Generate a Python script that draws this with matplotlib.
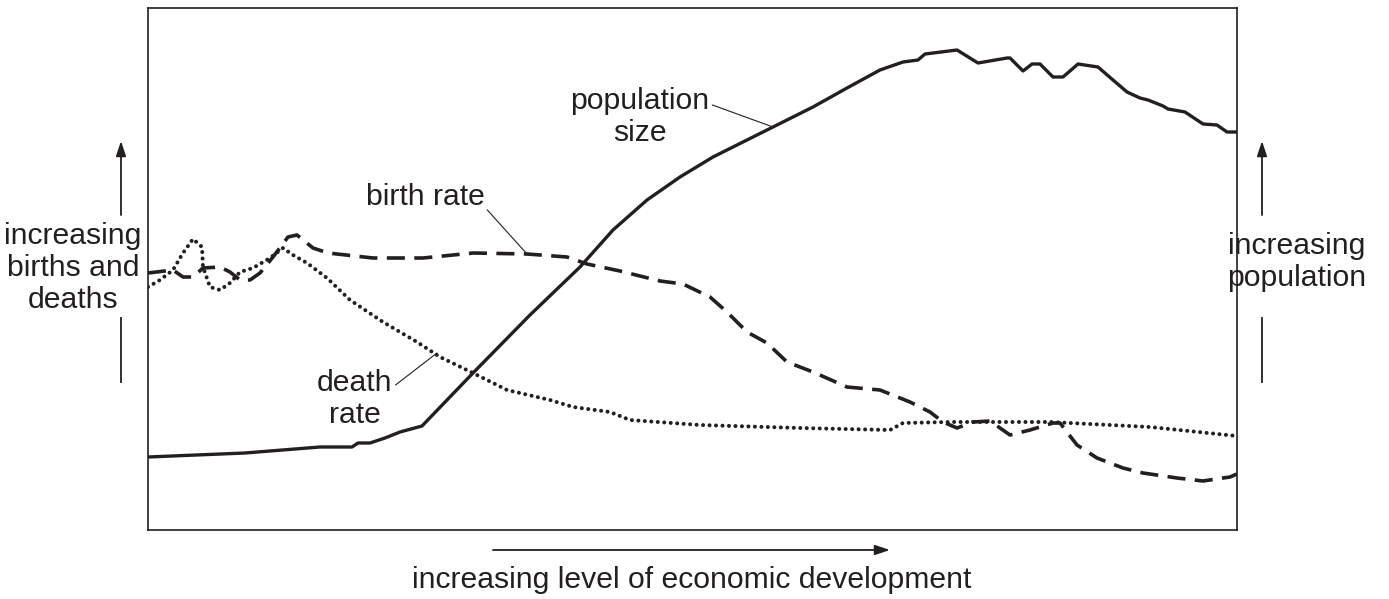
import matplotlib
matplotlib.use("Agg")
import matplotlib.pyplot as plt

plt.rcParams['font.family'] = ['Liberation Sans', 'DejaVu Sans']
INK = '#231f20'

# economic development level (x) and level (y) for each curve
pop_x = [0, 97, 172, 204, 210, 222, 237, 252, 274, 325, 382, 432, 465, 499, 532, 565, 599, 625, 665, 699,
         732, 755, 770, 777, 809, 830, 859, 862, 875, 884, 892, 905, 915, 930, 950, 965, 979, 992, 1000,
         1015, 1020, 1037, 1055, 1069, 1079, 1089]
pop_y = [73, 77, 83, 83, 87, 87, 92, 98, 104, 157, 215, 263, 300, 330, 353, 373, 390, 403, 423, 442,
         460, 468, 470, 476, 480, 467, 472, 472, 459, 466, 466, 453, 453, 466, 463, 450, 438, 432, 430,
         424, 421, 418, 406, 405, 398, 398]

birth_x = [0, 25, 35, 45, 55, 72, 82, 92, 102, 112, 125, 140, 149, 165, 180, 225, 275, 325, 379, 419,
           439, 472, 512, 535, 562, 579, 599, 619, 639, 665, 699, 732, 762, 782, 795, 809, 825, 842,
           862, 882, 905, 912, 929, 949, 975, 995, 1029, 1055, 1082, 1089]
birth_y = [257, 260, 253, 253, 262, 263, 258, 250, 250, 257, 273, 293, 295, 282, 277, 272, 272, 277, 276, 273,
           266, 259, 249, 246, 233, 218, 198, 187, 168, 158, 143, 140, 128, 118, 108, 102, 108, 109,
           95, 100, 107, 107, 85, 72, 62, 57, 52, 49, 53, 56]

death_x = [0, 12, 25, 35, 45, 54, 55, 62, 72, 82, 92, 105, 122, 135, 145, 159, 179, 202, 235, 269,
           292, 325, 359, 402, 425, 462, 482, 552, 652, 742, 755, 802, 902, 1002, 1089]
death_y = [243, 250, 260, 277, 291, 283, 263, 243, 240, 247, 258, 262, 272, 282, 275, 267, 252, 230, 208, 188,
           173, 157, 140, 130, 123, 118, 110, 105, 102, 100, 107, 108, 108, 103, 94]

fig = plt.figure(figsize=(13.89, 5.99), dpi=100)
ax = fig.add_axes([148/1389, 69/599, 1089/1389, 522/599])
ax.set_xlim(0, 1089)
ax.set_ylim(0, 522)
ax.set_xticks([])
ax.set_yticks([])
for s in ax.spines.values():
    s.set_color(INK)
    s.set_linewidth(1.2)

ax.plot(pop_x, pop_y, color=INK, lw=2.4, solid_joinstyle='round', solid_capstyle='butt')
ax.plot(birth_x, birth_y, color=INK, lw=2.6, linestyle=(0, (5.0, 2.6)), dash_capstyle='butt')
ax.plot(death_x, death_y, color=INK, lw=2.9, linestyle=(0, (0.01, 1.6)), dash_capstyle='round')

fs = 21.7
ax.annotate('population\nsize', xy=(625, 403), xytext=(492, 413), ha='center', va='center',
            fontsize=fs, color=INK, linespacing=1.15,
            arrowprops=dict(arrowstyle='-', color=INK, lw=0.8, shrinkA=0, shrinkB=0,
                            relpos=(1.0, 0.72)))
ax.annotate('birth rate', xy=(379, 276), xytext=(277, 333), ha='center', va='center',
            fontsize=fs, color=INK,
            arrowprops=dict(arrowstyle='-', color=INK, lw=0.8, shrinkA=0, shrinkB=0,
                            relpos=(1.0, 0.15)))
ax.annotate('death\nrate', xy=(289, 177), xytext=(207, 131), ha='center', va='center',
            fontsize=fs, color=INK, linespacing=1.15,
            arrowprops=dict(arrowstyle='-', color=INK, lw=0.8, shrinkA=0, shrinkB=0,
                            relpos=(1.0, 0.7)))

ax.text(-75, 262, 'increasing\nbirths and\ndeaths', ha='center', va='center', fontsize=fs,
        color=INK, linespacing=1.2, clip_on=False)
ax.text(1149, 268, 'increasing\npopulation', ha='center', va='center', fontsize=fs,
        color=INK, linespacing=1.2, clip_on=False)
ax.text(544, -50, 'increasing level of economic development', ha='center', va='center',
        fontsize=fs, color=INK, clip_on=False)

arrow_kw = dict(arrowstyle='-|>,head_length=0.9,head_width=0.3', color=INK, lw=1.3,
                shrinkA=0, shrinkB=0)
for x in (-27, 1114):
    ax.annotate('', xy=(x, 389), xytext=(x, 315), arrowprops=arrow_kw, annotation_clip=False)
    ax.plot([x, x], [212, 148], color=INK, lw=1.3, clip_on=False)
ax.annotate('', xy=(742, -20), xytext=(345, -20), arrowprops=arrow_kw, annotation_clip=False)

fig.savefig('out.png', dpi=100)
